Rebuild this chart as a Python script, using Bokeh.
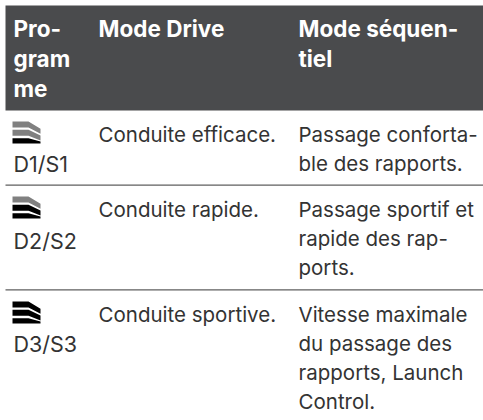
from bokeh.plotting import figure
from bokeh.models import Range1d
from bokeh.core.properties import value
from bokeh.embed import file_html
from bokeh.resources import INLINE

W, H = 483, 420

header_1 = ["Pro-", "gram", "me"]
header_2 = ["Mode Drive"]
header_3 = ["Mode séquen-", "tiel"]
programmes = ["D1/S1", "D2/S2", "D3/S3"]
drive = ["Conduite efficace.", "Conduite rapide.", "Conduite sportive."]
sequential = [
    ["Passage conforta-", "ble des rapports."],
    ["Passage sportif et", "rapide des rap-", "ports."],
    ["Vitesse maximale", "du passage des", "rapports, Launch", "Control."],
]
icon_colors = [
    ["#808080", "#808080", "#000000"],
    ["#808080", "#000000", "#000000"],
    ["#000000", "#000000", "#000000"],
]

p = figure(width=W, height=H, toolbar_location=None, output_backend="svg",
           x_range=Range1d(0, W), y_range=Range1d(H, 0),
           min_border=0, outline_line_color=None, margin=(0, 0, 0, 0))
p.axis.visible = False
p.grid.visible = False

p.quad(left=[5], right=[483], top=[5], bottom=[110], fill_color="#4a4b4d", line_color=None)

def txt(x, y, lines, size, color, style="normal", lh=29):
    for i, s in enumerate(lines):
        p.text([x], [y + i * lh], [s], text_font=value("Inter"), text_font_size=size,
               text_color=color, text_font_style=style, text_baseline="middle")

H1 = "22.5px"
txt(13, 28, header_1, H1, "#ffffff", "bold", 30)
txt(98, 28, header_2, H1, "#ffffff", "bold")
txt(298, 28, header_3, H1, "#ffffff", "bold", 30)

for r in [184.7, 289.3]:
    p.line([5, 483], [r, r], line_color="#5f5f5f", line_width=1.3)

B = "20.5px"
base = [134, 209, 314]
prog_base = [163, 240, 343]
icon_top = [121, 196, 301]
band_top = [0, 8.3, 16.7]
band_drop = [7.3, 5.7, 3.3]
for k in range(3):
    txt(13, prog_base[k], [programmes[k]], "21.5px", "#333333")
    txt(98, base[k], [drive[k]], B, "#333333")
    txt(298, base[k], sequential[k], B, "#333333")
    t = icon_top[k]
    for j, c in enumerate(icon_colors[k]):
        a = t + band_top[j]
        d = band_drop[j]
        xs = [12, 28, 40, 40, 28, 12]
        ys = [a, a, a + d, min(a + d + 5, t + 22), min(a + 6, t + 22), min(a + 6, t + 22)]
        p.patch(xs, ys, fill_color=c, line_color=None)

open("out.html", "w").write(file_html(p, INLINE))
